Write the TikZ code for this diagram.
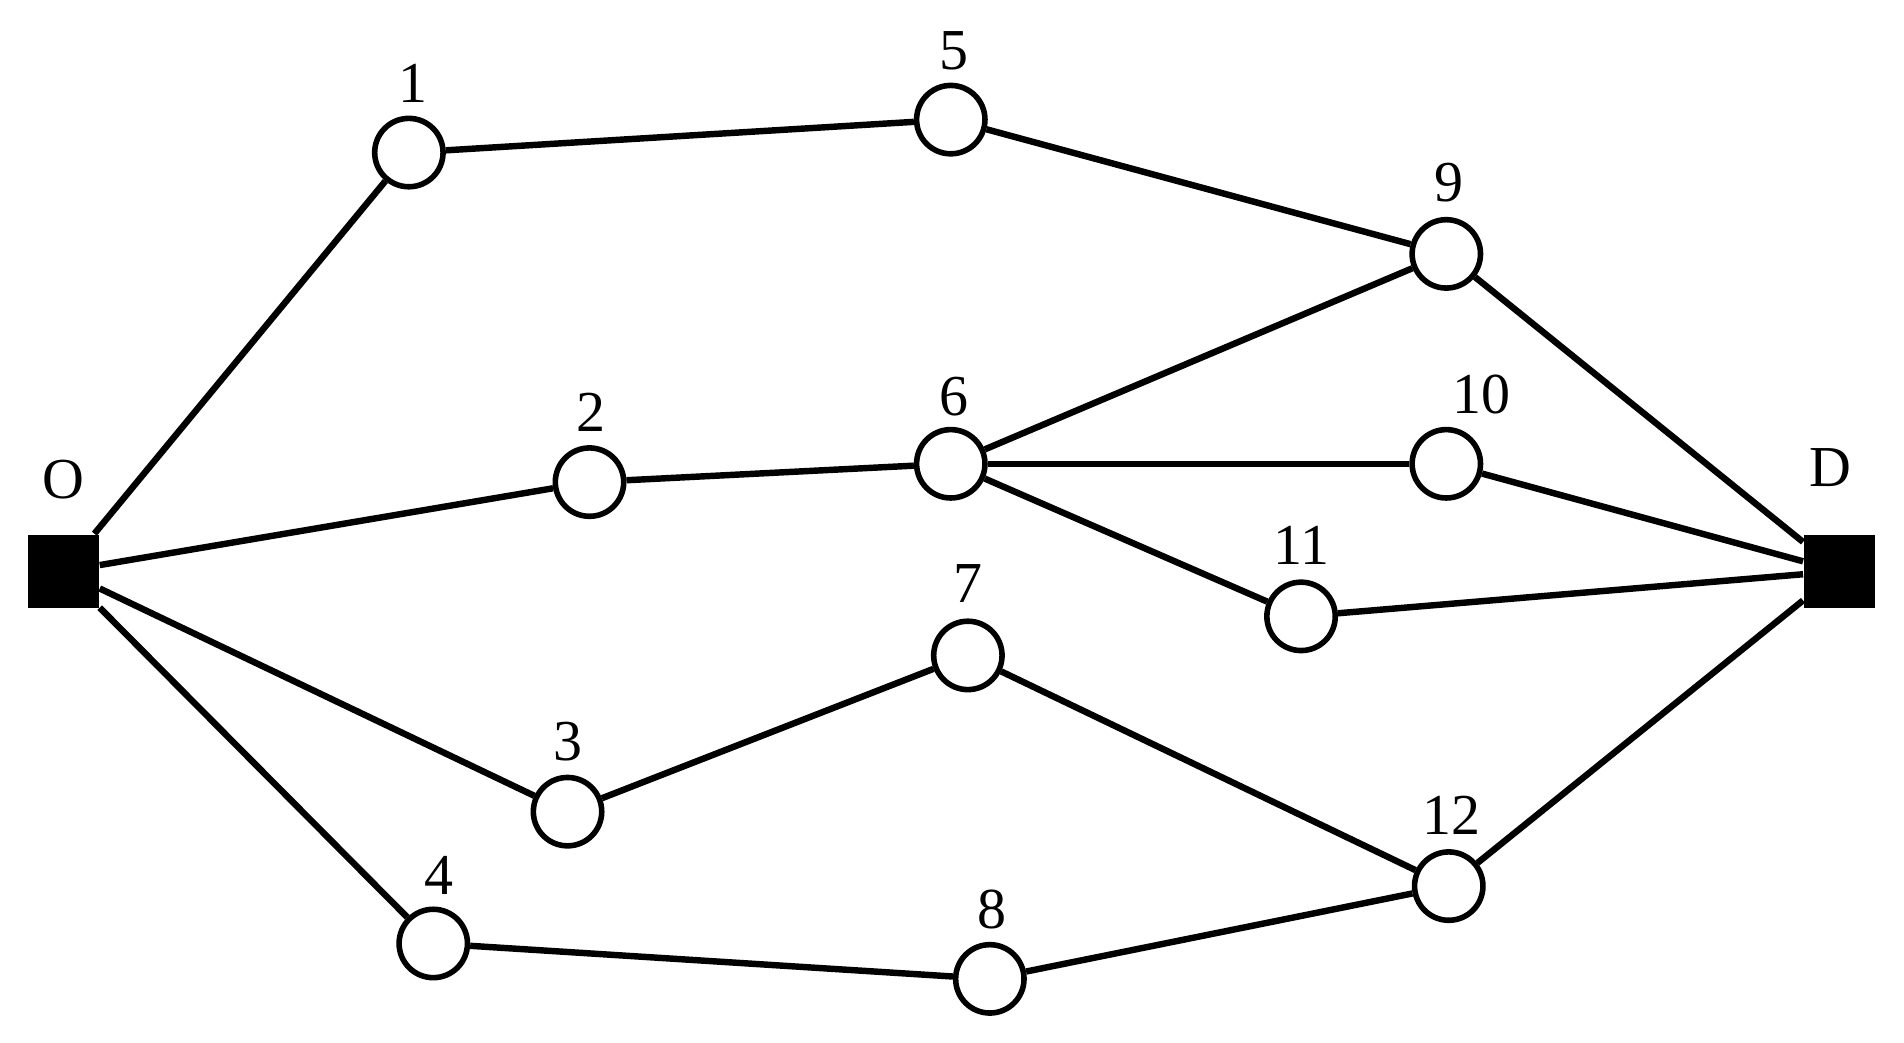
\documentclass[tikz,border=0pt]{standalone}
\usepackage{fontspec}
\setmainfont{Liberation Serif}
\begin{document}
\begin{tikzpicture}[x=0.01cm,y=-0.01cm,
  vtx/.style={circle,draw,line width=1.3pt,fill=white,minimum size=0.56cm,inner sep=0pt},
  term/.style={rectangle,fill=black,minimum width=0.58cm,minimum height=0.6cm,inner sep=0pt},
  lab/.style={font=\fontsize{13.5}{15}\selectfont},
  edge/.style={line width=1.5pt}]
\useasboundingbox (0,0) rectangle (1560,854);
\node[term] (O) at (52,468) {};
\node[term] (D) at (1507,468) {};
\node[lab] (lO) at (52,393) {O};
\node[lab] (lD) at (1500,383) {D};
\foreach \n/\x/\y/\lx/\ly in {1/335/125/338/68, 5/779/98/782/42, 9/1185/208/1187/150,
  2/483/395/484/338, 6/779/380/782/325, 10/1185/380/1214/323, 11/1066/505/1066/447,
  7/793/537/793/478, 3/465/665/465/608, 12/1187/726/1189/668, 4/355/773/360/717, 8/811/802/813/745}{
  \node[vtx] (v\n) at (\x,\y) {};
  \node[lab] (l\n) at (\lx,\ly) {\n};
}
\foreach \a/\b in {O/v1,O/v2,O/v3,O/v4,v1/v5,v5/v9,v2/v6,v6/v9,v6/v10,v6/v11,v9/D,v10/D,v11/D,v3/v7,v7/v12,v12/D,v4/v8,v8/v12}
  \draw[edge] (\a) -- (\b);
\end{tikzpicture}
\end{document}
